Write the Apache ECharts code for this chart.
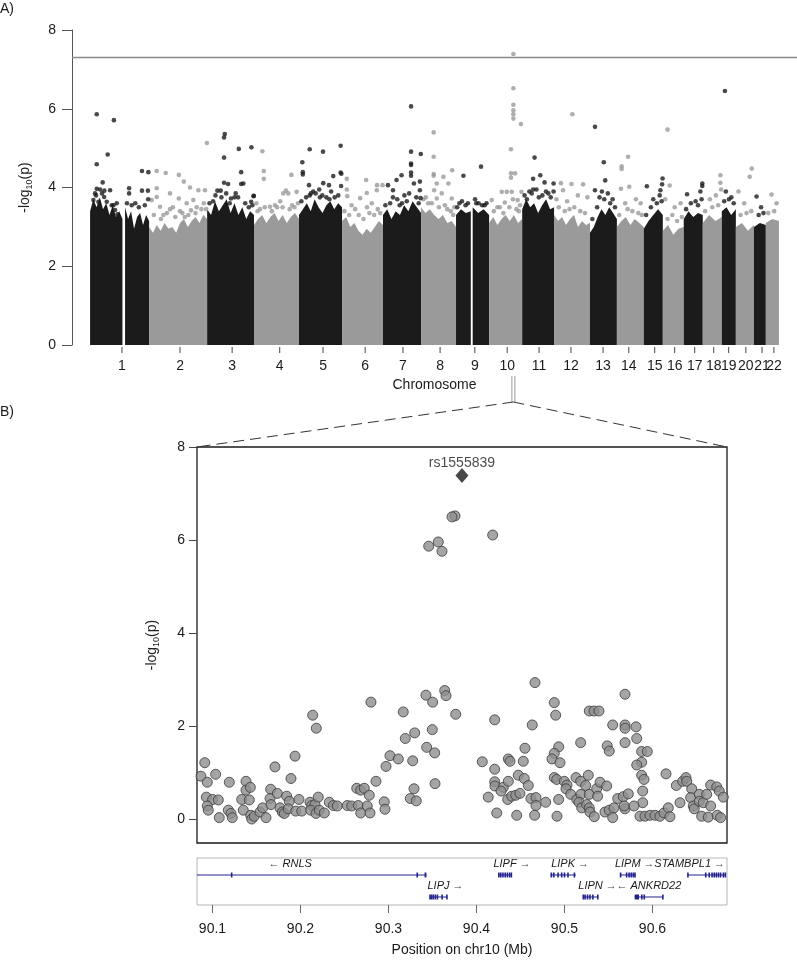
<!DOCTYPE html>
<html><head><meta charset="utf-8">
<script src="https://cdn.jsdelivr.net/npm/echarts@6/dist/echarts.min.js"></script>
<style>html,body{margin:0;padding:0;background:#fff}#c{width:797px;height:960px}</style>
</head><body><div id="c"></div>
<script>
// ---------------- DATA ----------------
const chrNames = ['1','2','3','4','5','6','7','8','9','10','11','12','13','14','15','16','17','18','19','20','21','22'];
// plotted span of each chromosome (Mb)
const chrLenMb = [248,244,197,189,181,172,160,147,139,139,134,151,113,113,80,88,80,80,59,76,50,55];
// tick/label position inside each chromosome (Mb)
const chrTickMb = [134,130,105,108,101,97,84,80,79,76,71,71,55,50,46,50,46,46,29,42,34,34];
// dense body of the Manhattan plot: [chr, fromMb, toMb, upper-envelope -log10(p) values]
const envelopeSegments = [
  [1,0,136,[3.4,3.7,3.5,3.75,3.45,3.6,3.3,3.55,3.25,3.4,3.2]],
  [1,147,248,[3.5,3.2,3.4,2.95,3.25,3.35,3.05,3.3,3.15]],
  [2,0,244,[3.0,2.85,3.05,2.9,3.1,2.95,3.0,2.85,3.1,3.2,3.0,3.15,3.25,3.1,3.3,3.2]],
  [3,0,197,[3.45,3.3,3.65,3.4,3.55,3.7,3.35,3.6,3.3,3.5,3.2,3.4,3.3]],
  [4,0,189,[3.05,3.2,3.3,3.1,3.25,3.35,3.15,3.3,3.1,3.25,3.35,3.2]],
  [5,0,181,[3.3,3.45,3.6,3.4,3.7,3.5,3.35,3.55,3.65,3.45,3.6,3.5]],
  [6,0,172,[3.15,3.25,3.0,3.1,2.9,2.8,2.95,2.85,3.0,3.15,3.05]],
  [7,0,160,[3.3,3.45,3.2,3.4,3.3,3.55,3.4,3.65,3.5,3.35]],
  [8,0,147,[3.5,3.35,3.45,3.3,3.2,3.3,3.1,3.15,3.0]],
  [9,0,62,[3.3,3.45,3.35,3.4]],
  [9,70,139,[3.5,3.35,3.45,3.3]],
  [10,0,139,[3.1,3.25,3.05,3.2,3.3,3.15,3.3,3.1,3.2]],
  [11,0,134,[3.45,3.7,3.5,3.6,3.35,3.55,3.7,3.45,3.5]],
  [12,0,151,[3.3,3.15,3.25,3.05,3.2,3.3,3.0,3.15,3.05,3.1]],
  [13,0,113,[2.85,3.0,3.25,3.45,3.3,3.5,3.35,3.2]],
  [14,0,113,[3.0,3.15,3.25,3.05,3.2,3.1,3.0]],
  [15,0,80,[2.95,3.15,3.3,3.45,3.3]],
  [16,0,88,[2.9,3.05,2.8,2.95,3.0]],
  [17,0,80,[3.2,3.4,3.25,3.35,3.3]],
  [18,0,80,[3.1,3.3,3.15,3.25]],
  [19,0,59,[3.4,3.5,3.3,3.45]],
  [20,0,76,[3.0,3.1,2.9,3.05]],
  [21,0,50,[3.0,3.1,3.05]],
  [22,0,55,[3.1,3.2,3.15]]
];
// individual SNPs standing out above the dense body: [chr, posMb, -log10(p)]
const manhattanPeaks = [
  [1,28,5.86],[1,28,4.59],[1,74,4.84],[1,100,5.71],[1,53,4.13],[1,28,3.97],[1,42,3.95],[1,60,3.92],[1,84,3.93],[1,25,3.8],[1,50,3.85],[1,98,3.55],[1,112,3.6],[1,164,3.98],[1,164,3.85],[1,218,4.42],[1,245,4.39],[1,218,3.92],[1,243,3.92],[1,244,3.7],[1,190,3.6],
  [1,14,3.68],[1,35,3.64],[1,70,3.64],[1,91,3.55],[1,105,3.43],[1,115,3.32],[1,21,3.85],[1,59,3.76],[1,155,3.6],[1,175,3.55],[1,205,3.5],[1,230,3.55],
  [2,32,4.42],[2,70,4.37],[2,125,4.32],[2,146,4.15],[2,172,4.0],[2,32,3.98],[2,88,3.85],[2,125,3.72],[2,158,3.6],[2,186,3.68],[2,207,3.93],[2,235,3.93],[2,32,3.76],[2,46,3.51],[2,11,3.68],[2,88,3.45],[2,100,3.5],[2,176,3.42],[2,240,3.45],[2,243,5.13],[2,60,3.3],[2,140,3.35],[2,200,3.5],
  [2,20,3.3],[2,50,3.2],[2,75,3.35],[2,110,3.25],[2,130,3.4],[2,165,3.3],[2,195,3.35],[2,220,3.45],[2,150,3.25],[2,230,3.6],
  [3,74,5.36],[3,71,5.27],[3,71,4.76],[3,133,4.98],[3,186,5.02],[3,143,4.39],[3,71,4.12],[3,88,4.09],[3,143,4.09],[3,152,4.1],[3,196,3.79],[3,43,3.92],[3,57,3.92],[3,185,3.64],[3,195,3.78],[3,100,3.72],[3,115,3.75],[3,120,3.85],[3,25,3.65],[3,60,3.75],
  [3,10,3.6],[3,35,3.8],[3,80,3.85],[3,95,3.6],[3,130,3.75],[3,160,3.6],[3,175,3.5],[3,190,3.55],
  [4,35,4.92],[4,41,4.42],[4,41,4.22],[4,157,4.32],[4,134,3.92],[4,67,3.51],[4,88,3.55],[4,123,3.85],[4,144,3.85],[4,179,3.89],[4,25,3.45],[4,97,3.5],[4,160,3.55],[4,110,3.65],[4,10,3.6],
  [4,15,3.4],[4,45,3.5],[4,75,3.4],[4,120,3.5],[4,150,3.45],[4,170,3.5],[4,185,3.6],
  [5,14,4.64],[5,16,4.39],[5,16,4.33],[5,45,4.97],[5,101,4.91],[5,175,5.06],[5,175,4.38],[5,178,4.35],[5,144,4.29],[5,102,4.11],[5,126,4.06],[5,177,4.04],[5,42,4.06],[5,50,3.85],[5,45,3.8],[5,88,3.75],[5,98,3.8],[5,128,3.7],[5,60,3.9],[5,150,3.75],
  [5,10,3.65],[5,30,3.75],[5,70,3.85],[5,115,3.75],[5,135,3.9],[5,165,3.8],[5,85,3.95],
  [6,20,4.22],[6,101,4.19],[6,147,4.06],[6,76,3.73],[6,104,3.86],[6,146,3.93],[6,170,4.06],[6,20,3.95],[6,22,3.78],[6,55,3.45],[6,105,3.5],[6,150,3.45],[6,125,3.6],[6,40,3.55],
  [6,10,3.4],[6,30,3.3],[6,70,3.3],[6,90,3.2],[6,115,3.35],[6,135,3.3],[6,160,3.35],
  [7,118,6.06],[7,118,4.91],[7,118,4.61],[7,118,4.57],[7,118,4.38],[7,159,4.85],[7,78,4.31],[7,57,4.19],[7,118,4.3],[7,21,4.06],[7,42,3.93],[7,155,4.15],[7,155,3.93],[7,158,3.73],[7,42,3.75],[7,60,3.7],[7,80,3.6],[7,100,3.65],[7,130,4.1],
  [7,10,3.55],[7,30,3.6],[7,70,3.55],[7,90,3.8],[7,110,3.85],[7,140,3.75],[7,150,3.6],
  [8,53,5.4],[8,53,4.78],[8,53,4.34],[8,53,4.3],[8,94,4.27],[8,66,4.1],[8,115,4.1],[8,87,3.85],[8,66,3.72],[8,129,3.72],[8,131,4.44],[8,55,3.93],[8,30,3.6],[8,100,3.55],[8,140,3.5],[8,10,3.7],
  [8,20,3.75],[8,45,3.6],[8,75,3.5],[8,110,3.45],[8,125,3.4],[8,135,3.3],
  [9,31,4.3],[9,105,4.53],[9,14,3.6],[9,110,3.55],[9,128,3.6],[9,40,3.55],[9,85,3.6],
  [9,5,3.5],[9,25,3.65],[9,50,3.6],[9,80,3.7],[9,95,3.6],[9,120,3.55],
  [10,102,7.39],[10,102,6.52],[10,102,6.1],[10,102,5.96],[10,102,5.86],[10,102,5.75],[10,134,5.61],[10,92,4.97],[10,92,4.36],[10,109,4.36],[10,53,3.89],[10,74,3.89],[10,95,3.89],[10,136,3.89],[10,45,3.5],[10,66,3.62],[10,120,3.68],[10,130,3.55],[10,11,3.68],[10,92,4.25],[10,100,3.7],
  [10,20,3.4],[10,35,3.5],[10,60,3.35],[10,85,3.5],[10,115,3.45],[10,125,3.4],
  [11,52,4.76],[11,46,4.22],[11,76,4.31],[11,94,4.13],[11,132,4.1],[11,132,3.9],[11,46,3.95],[11,30,3.9],[11,10,3.8],[11,60,3.95],[11,110,3.85],
  [11,20,3.7],[11,40,3.85],[11,70,3.75],[11,85,3.8],[11,100,3.9],[11,120,3.75],
  [12,77,5.86],[12,29,4.11],[12,122,4.08],[12,73,4.09],[12,38,3.93],[12,100,3.8],[12,140,3.75],[12,55,3.65],[12,10,3.7],
  [12,20,3.5],[12,45,3.4],[12,65,3.45],[12,85,3.5],[12,110,3.4],[12,130,3.35],
  [13,21,5.54],[13,58,4.64],[13,64,4.18],[13,21,3.93],[13,50,3.9],[13,75,3.85],[13,95,3.7],[13,40,3.75],
  [13,10,3.2],[13,30,3.5],[13,60,3.7],[13,85,3.6],[13,105,3.5],
  [14,47,4.78],[14,20,4.54],[14,20,4.47],[14,52,4.02],[14,17,3.97],[14,80,3.7],[14,100,3.6],[14,35,3.6],
  [14,10,3.3],[14,45,3.45],[14,65,3.4],[14,90,3.35],[14,105,3.3],
  [15,13,4.03],[15,79,4.23],[15,77,4.08],[15,70,3.93],[15,67,3.8],[15,40,3.7],
  [15,10,3.3],[15,30,3.5],[15,55,3.6],[15,75,3.65],
  [16,20,5.47],[16,29,4.05],[16,10,3.7],[16,50,3.5],[16,75,3.6],
  [16,20,3.2],[16,40,3.3],[16,60,3.15],[16,80,3.25],
  [17,14,3.83],[17,78,4.1],[17,78,4.04],[17,70,3.9],[17,50,3.65],
  [17,10,3.45],[17,30,3.6],[17,60,3.55],[17,75,3.7],
  [18,74,4.31],[18,74,4.12],[18,77,3.95],[18,30,3.7],[18,55,3.8],
  [18,10,3.4],[18,40,3.5],[18,65,3.55],
  [19,13,6.45],[19,17,3.9],[19,40,3.75],
  [19,10,3.65],[19,30,3.7],[19,50,3.6],
  [20,58,4.27],[20,67,4.48],[20,11,3.9],[20,35,3.6],
  [20,20,3.3],[20,45,3.35],[20,65,3.4],
  [21,11,3.77],[21,30,3.5],[21,20,3.3],[21,40,3.35],
  [22,24,3.82],[22,45,3.6],[22,10,3.35],[22,35,3.4]
];
const gwsThreshold = 7.3;
// zoomed locus
const zoomChr = 10, zoomPosMb = 102;
const regionTicks = [90.1,90.2,90.3,90.4,90.5,90.6];
const regionYTicks = [0,2,4,6,8];
const hitSnp = {name:'rs1555839', pos:90.3835, logp:7.39};
// regional SNPs: [position (Mb), -log10(p)]
const regionSnps = [
  [90.0912,1.22],[90.0869,0.93],[90.0941,0.80],[90.1036,0.97],[90.0930,0.48],[90.1002,0.43],[90.1066,0.42],[90.0941,0.29],[90.0952,0.20],[90.1077,0.04],
  [90.1191,0.80],[90.1180,0.20],[90.1210,0.13],[90.1225,0.04],[90.1332,0.43],[90.1381,0.82],[90.1381,0.63],[90.1430,0.69],[90.1418,0.42],[90.1350,0.20],
  [90.1434,0.09],[90.1446,0.01],[90.1475,0.07],[90.1540,0.16],[90.1571,0.25],[90.1608,0.04],[90.1661,0.65],[90.1654,0.45],[90.1665,0.32],[90.1710,1.13],
  [90.1737,0.56],[90.1767,0.25],[90.1793,0.16],[90.1816,0.13],[90.1843,0.50],[90.1873,0.39],[90.1861,0.23],[90.1892,0.88],[90.1938,1.36],[90.1946,0.18],
  [90.1983,0.43],[90.2014,0.18],[90.2139,2.24],[90.2180,1.96],[90.2108,0.37],[90.2127,0.30],[90.2165,0.32],[90.2202,0.48],[90.2116,0.20],[90.2176,0.13],
  [90.2214,0.20],[90.2271,0.14],[90.2327,0.37],[90.2373,0.30],[90.2418,0.29],[90.2532,0.30],[90.2582,0.29],[90.2639,0.67],[90.2684,0.63],[90.2725,0.67],
  [90.2782,0.52],[90.2657,0.30],[90.2684,0.14],[90.2759,0.29],[90.2790,0.14],[90.2801,2.52],[90.2858,0.82],[90.2972,1.14],[90.2952,0.38],[90.2960,0.22],
  [90.3017,1.37],[90.3112,1.30],[90.3168,2.31],[90.3191,1.74],[90.3298,1.86],[90.3275,1.26],[90.3290,0.66],[90.3248,0.45],[90.3316,0.40],[90.3426,2.67],
  [90.3502,2.52],[90.3498,1.93],[90.3434,1.55],[90.3525,1.43],[90.3529,0.77],[90.3639,2.77],[90.3654,2.66],[90.3764,2.26],
  [90.3756,6.52],[90.3722,6.50],[90.4184,6.11],[90.3457,5.87],[90.3566,5.96],[90.3608,5.76],
  [90.4665,2.94],[90.4207,2.14],[90.4066,1.24],[90.4207,1.08],[90.4362,1.30],[90.4381,1.25],[90.4532,1.25],[90.4551,1.53],[90.4634,2.03],[90.4207,0.81],
  [90.4210,0.72],[90.4305,0.69],[90.4279,0.61],[90.4362,0.82],[90.4475,0.95],[90.4543,0.88],[90.4589,0.73],[90.4134,0.48],[90.4355,0.43],[90.4400,0.50],
  [90.4446,0.52],[90.4494,0.56],[90.4230,0.14],[90.4457,0.09],[90.4619,0.45],[90.4676,0.47],[90.4676,0.30],[90.4661,0.09],[90.4786,0.37],[90.4884,2.51],
  [90.4900,2.24],[90.4934,1.56],[90.4884,1.42],[90.4858,1.30],[90.4949,1.22],[90.4884,0.90],[90.4912,0.86],[90.4998,0.82],[90.5029,0.74],[90.5017,0.66],
  [90.4934,0.43],[90.4915,0.07],[90.5071,0.54],[90.5139,0.43],[90.5131,0.90],[90.5184,1.65],[90.5184,0.82],[90.5188,0.54],[90.5241,0.73],[90.5271,0.95],
  [90.5165,0.37],[90.5196,0.25],[90.5282,0.54],[90.5252,0.32],[90.5282,0.25],[90.5290,0.16],[90.5339,0.06],[90.5282,2.33],[90.5335,2.33],[90.5392,2.33],
  [90.5366,0.66],[90.5404,0.80],[90.5377,0.50],[90.5480,0.72],[90.5486,1.58],[90.5509,1.47],[90.5548,2.03],[90.5460,0.16],[90.5509,0.20],[90.5563,0.25],
  [90.5605,0.45],[90.5668,0.49],[90.5725,0.55],[90.5688,0.23],[90.5680,0.29],[90.5688,2.69],[90.5688,2.03],[90.5688,1.96],[90.5688,1.65],[90.5813,1.99],
  [90.5821,1.74],[90.5877,1.46],[90.5941,1.46],[90.5877,1.23],[90.5821,1.17],[90.5877,0.95],[90.5904,0.86],[90.5889,0.61],[90.5889,0.36],[90.5790,0.29],
  [90.5858,0.07],[90.5915,0.07],[90.5972,0.09],[90.6029,0.09],[90.6085,0.07],[90.6154,0.98],[90.6131,0.14],[90.6180,0.25],[90.6199,0.06],[90.6271,0.73],
  [90.6313,0.36],[90.6343,0.82],[90.6381,0.90],[90.6389,0.82],[90.6446,0.66],[90.6434,0.47],[90.6464,0.29],[90.6475,0.23],[90.6532,0.54],[90.6532,0.39],
  [90.6577,0.36],[90.6616,0.54],[90.6661,0.29],[90.6559,0.07],[90.6634,0.05],[90.6661,0.74],[90.6730,0.70],[90.6759,0.61],[90.6805,0.48],[90.6736,0.09],
  [90.6774,0.04],[90.5548,0.04]
];
// genes in the window
const genes = [
  {name:'RNLS', start:90.0336, end:90.3431, strand:'-', row:0,
   exons:[[90.0336,90.0345],[90.1216,90.1220],[90.3325,90.3329],[90.3410,90.3431]]},
  {name:'LIPF', start:90.4246, end:90.4403, strand:'+', row:0,
   exons:[[90.4246,90.4262],[90.4268,90.4285],[90.4292,90.4310],[90.4318,90.4335],[90.4343,90.4360],[90.4368,90.4385],[90.4390,90.4403]]},
  {name:'LIPK', start:90.4839, end:90.5129, strand:'+', row:0,
   exons:[[90.4846,90.4856],[90.4874,90.4884],[90.4922,90.4932],[90.4963,90.4973],[90.4995,90.5005],[90.5035,90.5045],[90.5108,90.5118]]},
  {name:'LIPM', start:90.5633, end:90.5806, strand:'+', row:0,
   exons:[[90.5633,90.5642],[90.5701,90.5711],[90.5729,90.5739],[90.5753,90.5763],[90.5777,90.5787],[90.5797,90.5806]]},
  {name:'STAMBPL1', start:90.6399, end:90.6835, strand:'+', row:0,
   exons:[[90.6399,90.6407],[90.6600,90.6610],[90.6640,90.6650],[90.6672,90.6682],[90.6697,90.6707],[90.6721,90.6731],[90.6745,90.6755],[90.6769,90.6779],[90.6801,90.6811],[90.6822,90.6835]]},
  {name:'LIPJ', start:90.3468, end:90.3669, strand:'+', row:1,
   exons:[[90.3468,90.3476],[90.3484,90.3492],[90.3504,90.3512],[90.3528,90.3536],[90.3552,90.3560],[90.3605,90.3613],[90.3659,90.3669]]},
  {name:'LIPN', start:90.5210, end:90.5383, strand:'+', row:1,
   exons:[[90.5210,90.5218],[90.5230,90.5238],[90.5258,90.5266],[90.5286,90.5294],[90.5319,90.5327],[90.5375,90.5383]]},
  {name:'ANKRD22', start:90.5798, end:90.6121, strand:'-', row:1,
   exons:[[90.5798,90.5847],[90.5875,90.5883],[90.5903,90.5911],[90.6115,90.6121]]}
];

// ---------------- CHART ----------------
const FONT = '"Liberation Sans", Arial, Helvetica, sans-serif';
const BLACK = '#1b1b1b', GRAY = '#9a9a9a', GENE = '#23238f';
const REGION_MIN = 90.0824, REGION_MAX = 90.6847;
const B_YMIN = -0.505, B_YMAX = 8;

const chrOffset = []; let acc = 0;
chrLenMb.forEach(l => { chrOffset.push(acc); acc += l; });
const genomeLen = acc;
const toCum = (c, p) => chrOffset[c - 1] + p;
const tickCum = chrTickMb.map((t, i) => chrOffset[i] + t);

const blackPts = [], grayPts = [];
manhattanPeaks.forEach(([c, p, v]) => (c % 2 ? blackPts : grayPts).push([toCum(c, p), v]));

const envData = envelopeSegments.map(s => [toCum(s[0], s[1]), toCum(s[0], s[2])]);
function renderEnv(params, api) {
  const [c, from, to, hs] = envelopeSegments[params.dataIndex];
  const pts = [api.coord([toCum(c, from), 0])];
  hs.forEach((h, k) => {
    const x = from + (to - from) * k / (hs.length - 1);
    pts.push(api.coord([toCum(c, x), h]));
  });
  pts.push(api.coord([toCum(c, to), 0]));
  return {type: 'polygon', shape: {points: pts}, style: {fill: c % 2 ? BLACK : GRAY}};
}

// chromosome tick labels (drawn as text so the crowded 20/21/22 labels are all kept)
function renderChrLabel(params, api) {
  const i = params.dataIndex;
  const p = api.coord([tickCum[i], 0]);
  return {type: 'group', children: [
    {type: 'line', shape: {x1: p[0], y1: p[1] + 2, x2: p[0], y2: p[1] + 8}, style: {stroke: '#444', lineWidth: 1}},
    {type: 'text', x: p[0], y: p[1] + 14, style: {text: chrNames[i], align: 'center', verticalAlign: 'top', fontSize: 14, fontFamily: FONT, fill: '#1a1a1a'}}
  ]};
}

const measureCtx = document.createElement('canvas').getContext('2d');
const GENE_FONT_SIZE = 11;
measureCtx.font = 'italic ' + GENE_FONT_SIZE + 'px ' + FONT;
const tw = t => measureCtx.measureText(t).width;

function renderGene(params, api) {
  const g = genes[params.dataIndex];
  const y = api.coord([REGION_MIN, g.row])[1];
  const left = api.coord([REGION_MIN, 0])[0], right = api.coord([REGION_MAX, 0])[0];
  const x0 = api.coord([Math.max(g.start, REGION_MIN), 0])[0];
  const x1 = api.coord([Math.min(g.end, REGION_MAX), 0])[0];
  const ch = [{type: 'line', shape: {x1: x0, y1: y, x2: x1, y2: y}, style: {stroke: GENE, lineWidth: 1}}];
  g.exons.forEach(([s, e]) => {
    if (e < REGION_MIN || s > REGION_MAX) return;
    const a = api.coord([Math.max(s, REGION_MIN), 0])[0], b = api.coord([Math.min(e, REGION_MAX), 0])[0];
    const w = Math.max(1.6, b - a);
    ch.push({type: 'rect', shape: {x: (a + b) / 2 - w / 2, y: y - 2.5, width: w, height: 5}, style: {fill: GENE}});
  });
  const cx = api.coord([(g.start + g.end) / 2, 0])[0];
  const nw = tw(g.name), aw = tw('\u2192'), gap = 3;
  let nameCx, l, r;
  if (g.strand === '+') { nameCx = cx; l = cx - nw / 2; r = cx + nw / 2 + gap + aw; }
  else { const tot = aw + gap + nw; l = cx - tot / 2; r = cx + tot / 2; nameCx = r - nw / 2; }
  let shift = 0;
  if (r > right - 2) shift = right - 2 - r;
  if (l + shift < left + 3) shift = left + 3 - l;
  nameCx += shift; l += shift; r += shift;
  const ty = y - 11;
  const ts = {fontSize: GENE_FONT_SIZE, fontStyle: 'italic', fontFamily: FONT, fill: '#1a1a1a', verticalAlign: 'middle'};
  ch.push({type: 'text', x: nameCx, y: ty, style: Object.assign({text: g.name, align: 'center'}, ts)});
  if (g.strand === '+') ch.push({type: 'text', x: r, y: ty, style: Object.assign({text: '\u2192', align: 'right'}, ts, {fill: '#444'})});
  else ch.push({type: 'text', x: l, y: ty, style: Object.assign({text: '\u2190', align: 'left'}, ts, {fill: '#444'})});
  return {type: 'group', children: ch};
}

const ylabName = {
  name: '-log{s|10}(p)', nameLocation: 'middle', nameRotate: 90,
  nameTextStyle: {fontSize: 14, color: '#222', fontFamily: FONT, lineHeight: 18,
    rich: {s: {fontSize: 9, fontFamily: FONT, color: '#222', verticalAlign: 'bottom', lineHeight: 11}}}
};

const chart = echarts.init(document.getElementById('c'), null, {renderer: 'canvas'});
const option = {
  animation: false,
  backgroundColor: '#fff',
  textStyle: {fontFamily: FONT},
  grid: [
    {left: 72, right: 0, top: 30, height: 315},
    {left: 197, top: 447, width: 530, height: 396, show: true, borderColor: '#1a1a1a', borderWidth: 1.3},
    {left: 197, top: 858, width: 530, height: 47, show: true, borderColor: '#b5b5b5', borderWidth: 1}
  ],
  xAxis: [
    {gridIndex: 0, type: 'value', min: -76, max: genomeLen + 76,
     axisLine: {show: false, onZero: false}, splitLine: {show: false},
     axisTick: {show: false}, axisLabel: {show: false},
     name: 'Chromosome', nameLocation: 'middle', nameGap: 33, nameTextStyle: {fontSize: 14, color: '#1a1a1a'}},
    {gridIndex: 1, type: 'value', min: REGION_MIN, max: REGION_MAX, show: false},
    {gridIndex: 2, type: 'value', min: REGION_MIN, max: REGION_MAX,
     axisLine: {show: false, onZero: false}, splitLine: {show: false},
     axisTick: {show: true, customValues: regionTicks, length: 8, lineStyle: {color: '#666'}},
     axisLabel: {show: true, customValues: regionTicks, formatter: v => v.toFixed(1), fontSize: 14, color: '#1a1a1a', margin: 17},
     name: 'Position on chr10 (Mb)', nameLocation: 'middle', nameGap: 38, nameTextStyle: {fontSize: 14, color: '#1a1a1a'}}
  ],
  yAxis: [
    Object.assign({gridIndex: 0, type: 'value', min: 0, max: 8, interval: 2,
     axisLine: {show: true, onZero: false, lineStyle: {color: '#555'}}, splitLine: {show: false},
     axisTick: {show: true, length: 10, lineStyle: {color: '#555'}},
     axisLabel: {fontSize: 14, color: '#1a1a1a', margin: 16}, nameGap: 38}, ylabName),
    Object.assign({gridIndex: 1, type: 'value', min: B_YMIN, max: B_YMAX,
     axisLine: {show: false, onZero: false}, splitLine: {show: false},
     axisTick: {show: true, customValues: regionYTicks, length: 8, lineStyle: {color: '#444'}},
     axisLabel: {show: true, customValues: regionYTicks, fontSize: 14, color: '#1a1a1a', margin: 12, showMaxLabel: true}, nameGap: 36}, ylabName),
    {gridIndex: 2, type: 'value', min: -0.773, max: 1.364, inverse: true, show: false}
  ],
  series: [
    {type: 'custom', xAxisIndex: 0, yAxisIndex: 0, renderItem: renderEnv, data: envData, encode: {x: [0, 1]}, silent: true, z: 1},
    {type: 'scatter', xAxisIndex: 0, yAxisIndex: 0, data: grayPts, symbolSize: 4.6, itemStyle: {color: GRAY}, silent: true, z: 2},
    {type: 'scatter', xAxisIndex: 0, yAxisIndex: 0, data: blackPts, symbolSize: 4.6, itemStyle: {color: BLACK}, silent: true, z: 3,
     markLine: {silent: true, symbol: 'none', label: {show: false}, lineStyle: {color: '#8a8a8a', width: 1.3, type: 'solid'}, data: [{yAxis: gwsThreshold}]}},
    {type: 'custom', xAxisIndex: 0, yAxisIndex: 0, renderItem: renderChrLabel, data: tickCum.map(v => [v, 0]), clip: false, silent: true, z: 3},
    {type: 'scatter', xAxisIndex: 1, yAxisIndex: 1, data: regionSnps, symbol: 'circle', symbolSize: 10,
     itemStyle: {color: '#8e8e8e', borderColor: '#3a3a3a', borderWidth: 1}, silent: true, z: 4},
    {type: 'scatter', xAxisIndex: 1, yAxisIndex: 1, data: [{value: [hitSnp.pos, hitSnp.logp], name: hitSnp.name}],
     symbol: 'diamond', symbolSize: [13, 15], itemStyle: {color: BLACK}, z: 5, silent: true,
     label: {show: true, position: 'top', distance: -2, formatter: p => p.name, fontSize: 14, color: '#1a1a1a'}},
    {type: 'custom', xAxisIndex: 2, yAxisIndex: 2, renderItem: renderGene, data: genes.map(g => [g.start, g.end]), encode: {x: [0, 1]}, silent: true, z: 6}
  ]
};
chart.setOption(option);

// connector from the Manhattan peak to the regional panel
const apexX = chart.convertToPixel({xAxisIndex: 0}, toCum(zoomChr, zoomPosMb));
const bl = chart.convertToPixel({xAxisIndex: 1, yAxisIndex: 1}, [REGION_MIN, B_YMAX]);
const br = chart.convertToPixel({xAxisIndex: 1, yAxisIndex: 1}, [REGION_MAX, B_YMAX]);
const apexY = bl[1] - 45;
chart.setOption({
  graphic: [
    {type: 'text', left: 0, top: 2, style: {text: 'A)', fontSize: 14, fill: '#1a1a1a', fontFamily: FONT}},
    {type: 'text', left: 0, top: 405, style: {text: 'B)', fontSize: 14, fill: '#1a1a1a', fontFamily: FONT}},
    {type: 'line', shape: {x1: apexX - 1.5, y1: apexY - 26, x2: apexX - 1.5, y2: apexY}, style: {stroke: '#999', lineWidth: 1}},
    {type: 'line', shape: {x1: apexX + 1.5, y1: apexY - 26, x2: apexX + 1.5, y2: apexY}, style: {stroke: '#999', lineWidth: 1}},
    {type: 'line', shape: {x1: apexX, y1: apexY, x2: bl[0], y2: bl[1]}, style: {stroke: '#333', lineWidth: 1, lineDash: [11, 6]}},
    {type: 'line', shape: {x1: apexX, y1: apexY, x2: br[0], y2: br[1]}, style: {stroke: '#333', lineWidth: 1, lineDash: [11, 6]}}
  ]
});
</script></body></html>
